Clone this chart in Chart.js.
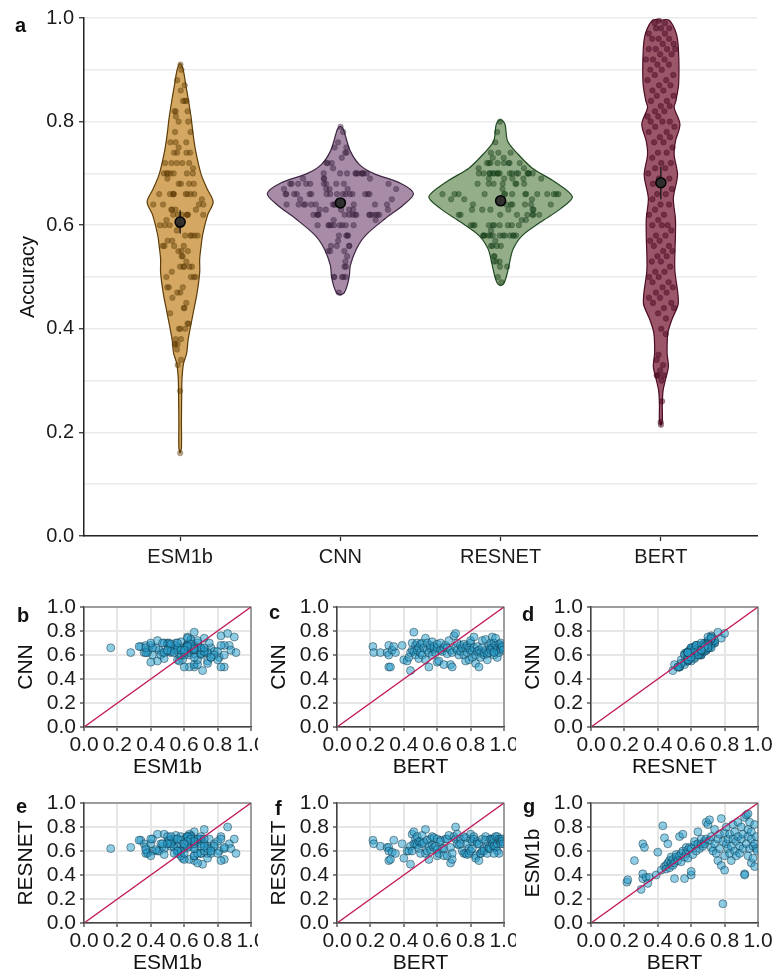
<!DOCTYPE html>
<html><head><meta charset="utf-8">
<script src="https://cdn.jsdelivr.net/npm/chart.js@4.4.0/dist/chart.umd.min.js"></script>
<style>
html,body{margin:0;padding:0;background:#fff;width:773px;height:973px;overflow:hidden;font-family:"Liberation Sans",Arial,sans-serif;}
.box{position:absolute;overflow:hidden;}
.box canvas{position:absolute;left:0;top:0;}
.lbl{position:absolute;font-weight:bold;font-size:20px;line-height:20px;color:#111;}
</style></head><body>
<div class="box" style="left:0;top:0;width:773px;height:580px"><canvas id="cTop" width="773" height="580"></canvas></div>
<div class="box" style="left:0;top:590px;width:258px;height:190px"><canvas id="cB" width="281" height="190"></canvas></div>
<div class="box" style="left:253px;top:590px;width:263px;height:190px"><canvas id="cC" width="281" height="190"></canvas></div>
<div class="box" style="left:507px;top:590px;width:266px;height:190px"><canvas id="cD" width="281" height="190"></canvas></div>
<div class="box" style="left:0;top:786px;width:258px;height:190px"><canvas id="cE" width="281" height="190"></canvas></div>
<div class="box" style="left:253px;top:786px;width:263px;height:190px"><canvas id="cF" width="281" height="190"></canvas></div>
<div class="box" style="left:507px;top:786px;width:266px;height:190px"><canvas id="cG" width="281" height="190"></canvas></div>
<div class="lbl" style="left:15px;top:15px">a</div>
<div class="lbl" style="left:17px;top:605px">b</div>
<div class="lbl" style="left:269px;top:602px">c</div>
<div class="lbl" style="left:522px;top:604px">d</div>
<div class="lbl" style="left:16px;top:796px">e</div>
<div class="lbl" style="left:275px;top:798px">f</div>
<div class="lbl" style="left:523px;top:796px">g</div>
<script>
// ---------------- DATA ----------------
const categories = ['ESM1b', 'CNN', 'RESNET', 'BERT'];

const esm1b = [0.34,0.36,0.52,0.28,0.37,0.66,0.63,0.41,0.38,0.38,0.40,0.59,0.33,
 0.44,0.81,0.71,0.47,0.48,0.45,0.66,0.50,0.52,0.46,0.50,0.55,0.48,0.53,0.37,0.50,0.55,0.57,0.52,0.72,0.56,0.58,0.51,0.74,0.60,0.37,0.55,0.63,0.58,0.54,0.61,0.63,0.40,0.43,0.62,0.57,0.65,0.68,0.60,0.76,0.66,0.62,0.66,0.70,0.64,0.68,0.66,0.84,0.70,0.82,
 0.86,0.69,0.72,0.63,0.60,0.66,0.78,0.58,0.52,0.70,0.74,0.62,0.87,0.48,0.16,0.68,0.75,0.56,0.44,0.66,0.80,0.62,0.70,0.58,0.74,0.64,0.52,0.82,0.70,0.60,0.76,0.68,0.56,0.84,0.72,0.64,0.58,0.80,0.70,0.62,0.74,0.41,0.40,0.88,0.90,0.66,0.78,0.56,0.72,0.84,0.62,0.50,0.70,0.76,0.64,0.54,0.82,0.66,0.47,0.72,0.62,0.60,0.91];

const cnn = [0.67,0.62,0.62,0.62,0.68,0.50,0.50,0.60,0.64,0.62,0.68,0.56,0.67,
 0.55,0.58,0.47,0.62,0.70,0.64,0.79,0.63,0.68,0.60,0.70,0.64,0.57,0.66,0.62,0.69,0.70,0.60,0.66,0.74,0.56,0.64,0.70,0.62,0.50,0.66,0.68,0.60,0.71,0.65,0.67,0.62,0.54,0.66,0.69,0.55,0.64,0.70,0.63,0.66,0.52,0.68,0.61,0.66,0.72,0.52,0.64,0.50,0.62,0.76,
 0.78,0.66,0.64,0.70,0.60,0.68,0.63,0.66,0.69,0.60,0.55,0.66,0.68,0.62,0.66,0.56,0.70,0.64,0.72,0.58,0.63,0.75,0.66,0.60,0.53,0.67,0.63,0.50,0.64,0.62,0.58,0.72,0.66,0.60,0.62,0.73,0.64,0.56,0.61,0.68,0.62,0.66,0.70,0.64,0.75,0.66,0.60,0.70,0.63,0.68,0.74,0.64,0.66,0.58,0.69,0.62,0.68,0.65,0.70,0.66,0.67,0.64,0.62];

const resnet = [0.69,0.66,0.64,0.63,0.63,0.52,0.53,0.60,0.59,0.58,0.66,0.54,0.69,
 0.60,0.60,0.49,0.64,0.74,0.60,0.76,0.66,0.70,0.66,0.72,0.65,0.62,0.68,0.58,0.68,0.73,0.66,0.67,0.78,0.58,0.60,0.69,0.64,0.53,0.61,0.70,0.65,0.72,0.63,0.71,0.64,0.56,0.61,0.70,0.58,0.69,0.68,0.62,0.62,0.56,0.70,0.56,0.70,0.73,0.50,0.63,0.53,0.58,0.72,
 0.80,0.70,0.66,0.74,0.65,0.70,0.66,0.60,0.72,0.58,0.58,0.71,0.66,0.57,0.62,0.58,0.70,0.60,0.74,0.62,0.68,0.72,0.70,0.56,0.54,0.68,0.66,0.52,0.66,0.58,0.58,0.70,0.60,0.62,0.60,0.72,0.69,0.58,0.64,0.63,0.62,0.70,0.70,0.62,0.70,0.66,0.64,0.70,0.64,0.63,0.72,0.66,0.72,0.60,0.70,0.58,0.70,0.68,0.66,0.70,0.68,0.66,0.58];

const bert = [0.215,0.22,0.26,0.30,0.31,0.31,0.32,0.31,0.33,0.35,0.39,0.40,0.34,
 0.42,0.43,0.44,0.44,0.45,0.45,0.46,0.46,0.47,0.47,0.48,0.48,0.49,0.49,0.50,0.50,0.51,0.51,0.52,0.53,0.53,0.54,0.54,0.55,0.55,0.56,0.56,0.57,0.57,0.58,0.58,0.59,0.60,0.60,0.60,0.61,0.62,0.62,0.63,0.64,0.64,0.65,0.66,0.66,0.67,0.68,0.68,0.69,0.69,0.70,
 0.71,0.71,0.72,0.72,0.73,0.74,0.74,0.75,0.76,0.76,0.77,0.77,0.78,0.78,0.79,0.79,0.80,0.80,0.80,0.81,0.81,0.82,0.82,0.83,0.83,0.84,0.84,0.85,0.85,0.86,0.86,0.87,0.87,0.88,0.88,0.89,0.89,0.90,0.90,0.91,0.91,0.92,0.92,0.92,0.93,0.93,0.94,0.94,0.94,0.95,0.95,0.96,0.96,0.96,0.97,0.97,0.98,0.98,0.98,0.99,0.99,0.995,0.94];

// group mean and error bar
const meanVals = [0.606, 0.643, 0.647, 0.682];
const errLow   = [0.584, 0.636, 0.640, 0.650];
const errHigh  = [0.629, 0.651, 0.655, 0.713];

// violin outlines: accuracy levels and half-width (density, category units)
const esmVioY  = [0.160,0.170,0.220,0.280,0.300,0.314,0.333,0.353,0.379,0.425,0.470,0.509,0.535,0.560,0.581,0.620,0.645,0.670,0.698,0.743,0.775,0.807,0.850,0.873,0.900,0.912];
const esmVioW  = [0.000,0.008,0.008,0.010,0.011,0.014,0.021,0.041,0.050,0.078,0.106,0.122,0.122,0.131,0.140,0.172,0.206,0.169,0.131,0.097,0.081,0.069,0.047,0.034,0.019,0.000];
const cnnVioY  = [0.465,0.470,0.483,0.502,0.522,0.554,0.580,0.613,0.639,0.661,0.681,0.700,0.717,0.743,0.775,0.785,0.791];
const cnnVioW  = [0.000,0.025,0.042,0.056,0.062,0.100,0.156,0.281,0.393,0.456,0.375,0.206,0.119,0.062,0.029,0.019,0.000];
const resVioY  = [0.483,0.487,0.502,0.528,0.554,0.580,0.606,0.632,0.655,0.684,0.710,0.737,0.762,0.795,0.804];
const resVioW  = [0.000,0.019,0.037,0.056,0.078,0.135,0.250,0.375,0.448,0.337,0.198,0.109,0.044,0.027,0.000];
const bertVioY = [0.213,0.224,0.255,0.281,0.301,0.327,0.353,0.392,0.418,0.450,0.515,0.580,0.613,0.652,0.697,0.736,0.762,0.795,0.827,0.840,0.873,0.938,0.970,0.996,0.996];
const bertVioW = [0.000,0.009,0.009,0.014,0.028,0.047,0.039,0.044,0.069,0.109,0.087,0.091,0.091,0.078,0.104,0.083,0.091,0.119,0.083,0.094,0.111,0.110,0.096,0.050,0.000];

const identityLine = [0, 1];

// ---------------- STYLE ----------------
const FONT = '"Liberation Sans", Arial, Helvetica, sans-serif';
const vioFill   = ['#d4a862', '#a78ba7', '#95ae8a', '#9c566a'];
const vioLine   = ['#5c3c08', '#3d2642', '#1f4a22', '#4c0c24'];
const jitFill   = ['rgba(95,60,5,0.45)', 'rgba(55,30,60,0.45)', 'rgba(20,65,25,0.45)', 'rgba(70,5,30,0.5)'];
const jitLine   = ['rgba(80,50,5,0.4)', 'rgba(45,25,50,0.4)', 'rgba(15,55,20,0.4)', 'rgba(60,5,25,0.45)'];

// ---------------- TOP: violins ----------------
const groupVals = [esm1b, cnn, resnet, bert];
const vioYs = [esmVioY, cnnVioY, resVioY, bertVioY];
const vioWs = [esmVioW, cnnVioW, resVioW, bertVioW];

function halfWidthAt(ys, ws, v) {
  if (v <= ys[0] || v >= ys[ys.length - 1]) return 0;
  for (let k = 1; k < ys.length; k++) {
    if (v <= ys[k]) {
      const t = (v - ys[k - 1]) / (ys[k] - ys[k - 1] || 1);
      return ws[k - 1] + t * (ws[k] - ws[k - 1]);
    }
  }
  return 0;
}

const topDatasets = [];
categories.forEach((cat, i) => {
  const c = i + 1, ys = vioYs[i], ws = vioWs[i];
  const right = ys.map((y, k) => ({x: c + ws[k], y}));
  const left = [];
  for (let k = ys.length - 1; k >= 0; k--) if (ws[k] > 0) left.push({x: c - ws[k], y: ys[k]});
  const poly = right.concat(left, [right[0]]);
  topDatasets.push({type: 'line', data: poly, fill: 'shape', backgroundColor: vioFill[i],
    borderColor: vioLine[i], borderWidth: 1.2, tension: 0.3, pointRadius: 0, order: 40});
  // jittered points spread inside the violin (deterministic low-discrepancy offsets)
  const pts = groupVals[i].map((v, j) => {
    const u = (((j + 1) * 0.6180339887 + i * 0.37) % 1) * 2 - 1;
    return {x: c + u * 0.85 * halfWidthAt(ys, ws, v), y: v};
  });
  topDatasets.push({type: 'scatter', data: pts, pointRadius: 2.8, backgroundColor: jitFill[i],
    borderColor: jitLine[i], borderWidth: 0.6, order: 30});
  topDatasets.push({type: 'line', data: [{x: c, y: errLow[i]}, {x: c, y: errHigh[i]}],
    borderColor: '#111', borderWidth: 1.3, pointRadius: 0, fill: false, order: 20});
  topDatasets.push({type: 'scatter', data: [{x: c, y: meanVals[i]}], pointRadius: 5,
    backgroundColor: 'rgba(45,45,45,0.95)', borderColor: '#000', borderWidth: 1.5, order: 10});
});

const isMajor = v => Math.round(v * 10) % 2 === 0;

new Chart(document.getElementById('cTop'), {
  type: 'scatter',
  data: {datasets: topDatasets},
  options: {
    responsive: false, animation: false, events: [],
    layout: {padding: {left: 0, top: 18, right: 16, bottom: 0}},
    plugins: {legend: {display: false}, tooltip: {enabled: false}},
    scales: {
      x: {
        type: 'linear', min: 0.4, max: 4.6,
        afterBuildTicks: a => { a.ticks = categories.map((c, i) => ({value: i + 1})); },
        ticks: {autoSkip: false, maxRotation: 0, minRotation: 0, padding: 4, color: '#1a1a1a',
          font: {size: 20, family: FONT}, callback: v => categories[Math.round(v) - 1] || ''},
        grid: {drawOnChartArea: false, drawTicks: true, tickLength: 5, tickColor: '#333', tickWidth: 1.3},
        border: {display: true, color: '#222', width: 1.5},
        afterFit: s => { s.height = 44; }
      },
      y: {
        type: 'linear', min: 0, max: 1,
        ticks: {stepSize: 0.1, autoSkip: false, padding: 5, color: '#1a1a1a', font: {size: 20, family: FONT},
          callback: v => isMajor(v) ? v.toFixed(1) : ''},
        grid: {color: '#ebebeb', lineWidth: 1.5, tickLength: 5, tickWidth: 1.3,
          tickColor: ctx => (ctx.tick && isMajor(ctx.tick.value)) ? '#333' : 'rgba(0,0,0,0)'},
        border: {display: true, color: '#222', width: 1.5},
        title: {display: true, text: 'Accuracy', color: '#111', font: {size: 20, family: FONT}, padding: {top: 16, bottom: 0}},
        afterFit: s => { s.width = 84; }
      }
    }
  }
});

// ---------------- SCATTER PANELS ----------------
const panelBorder = {
  id: 'panelBorder',
  afterDatasetsDraw(chart) {
    const a = chart.chartArea, ctx = chart.ctx;
    ctx.save(); ctx.strokeStyle = '#555'; ctx.lineWidth = 1;
    ctx.strokeRect(a.left, a.top, a.right - a.left, a.bottom - a.top);
    ctx.restore();
  }
};

function scatterPanel(id, xs, ys, xTitle, yTitle) {
  const pts = xs.map((v, i) => ({x: v, y: ys[i]}));
  new Chart(document.getElementById(id), {
    type: 'scatter',
    data: {datasets: [
      {type: 'line', data: identityLine.map(v => ({x: v, y: v})), borderColor: '#c2185b', borderWidth: 1.4,
        pointRadius: 0, fill: false, order: 0},
      {type: 'scatter', data: pts, pointRadius: 4, backgroundColor: 'rgba(41,159,205,0.52)',
        borderColor: 'rgba(15,45,60,0.6)', borderWidth: 0.8, order: 1}
    ]},
    options: {
      responsive: false, animation: false, events: [],
      layout: {padding: {left: 0, top: 17, right: 30, bottom: 0}},
      plugins: {legend: {display: false}, tooltip: {enabled: false}},
      scales: {
        x: {
          type: 'linear', min: 0, max: 1,
          ticks: {stepSize: 0.2, autoSkip: false, maxRotation: 0, minRotation: 0, padding: 2, color: '#1a1a1a',
            font: {size: 21, family: FONT}, callback: v => v.toFixed(1)},
          grid: {color: '#e6e6e6', lineWidth: 2, tickLength: 4, tickColor: '#333', tickWidth: 1.2},
          border: {display: true, color: '#333', width: 1.2},
          title: {display: true, text: xTitle, color: '#111', font: {size: 21, family: FONT}, padding: {top: 0, bottom: 0}},
          afterFit: s => { s.height = 53; }
        },
        y: {
          type: 'linear', min: 0, max: 1,
          ticks: {stepSize: 0.2, autoSkip: false, padding: 4, color: '#1a1a1a',
            font: {size: 21, family: FONT}, callback: v => v.toFixed(1)},
          grid: {color: '#e6e6e6', lineWidth: 2, tickLength: 4, tickColor: '#333', tickWidth: 1.2},
          border: {display: true, color: '#333', width: 1.2},
          title: {display: true, text: yTitle, color: '#111', font: {size: 21, family: FONT}, padding: {top: 14, bottom: 0}},
          afterFit: s => { s.width = 84; }
        }
      }
    },
    plugins: [panelBorder]
  });
}

scatterPanel('cB', esm1b, cnn, 'ESM1b', 'CNN');
scatterPanel('cC', bert, cnn, 'BERT', 'CNN');
scatterPanel('cD', resnet, cnn, 'RESNET', 'CNN');
scatterPanel('cE', esm1b, resnet, 'ESM1b', 'RESNET');
scatterPanel('cF', bert, resnet, 'BERT', 'RESNET');
scatterPanel('cG', bert, esm1b, 'BERT', 'ESM1b');
</script>
</body></html>
